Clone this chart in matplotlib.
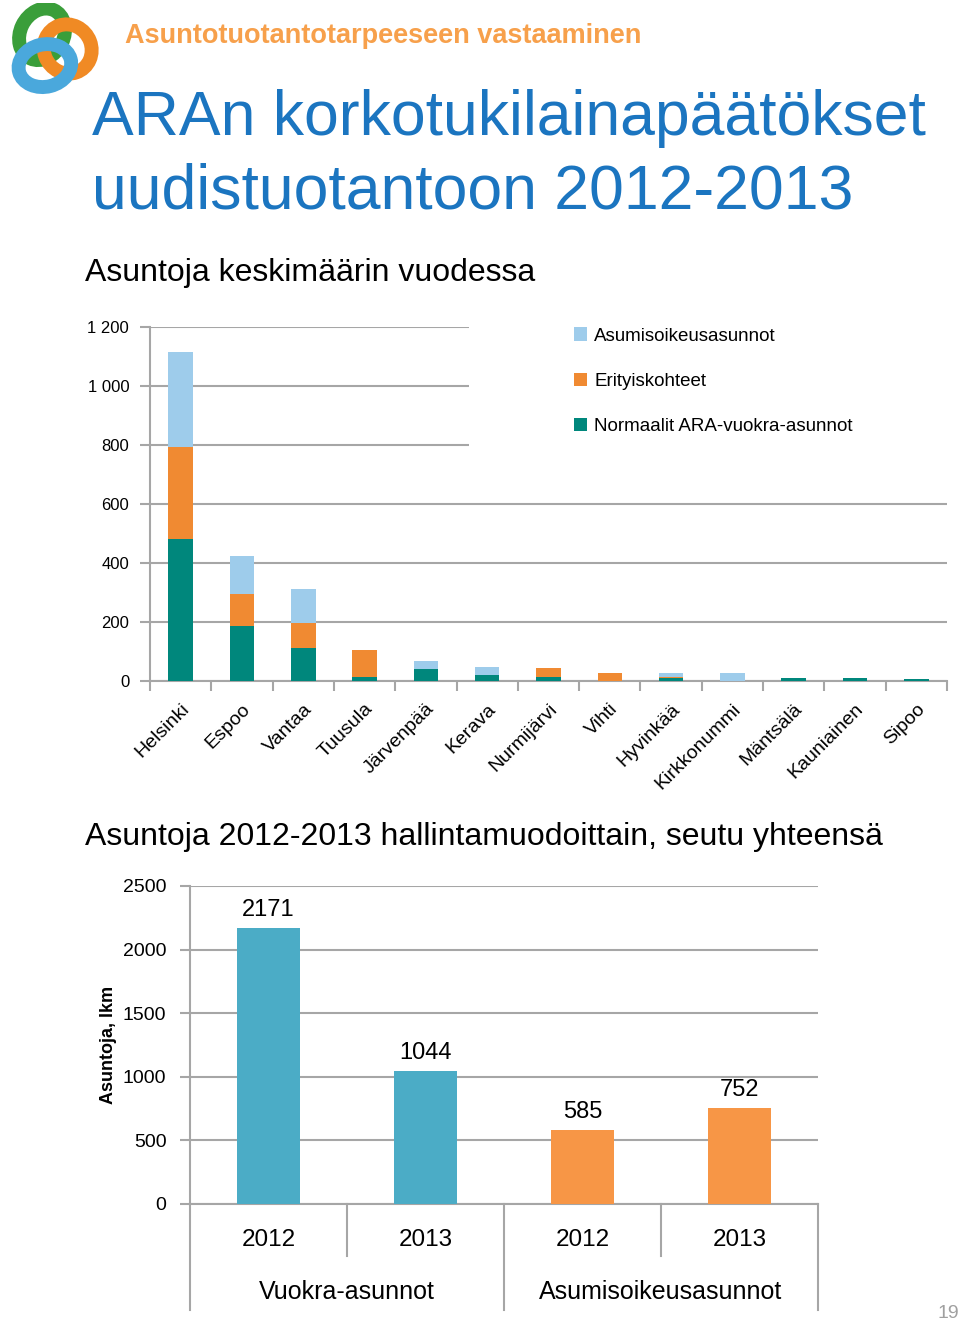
import matplotlib.pyplot as plt
import numpy as np
from matplotlib.patches import Ellipse, Rectangle

plt.rcParams['font.family'] = ['Liberation Sans', 'DejaVu Sans']

# top chart data
kunnat = ['Helsinki', 'Espoo', 'Vantaa', 'Tuusula', 'Järvenpää', 'Kerava', 'Nurmijärvi',
          'Vihti', 'Hyvinkää', 'Kirkkonummi', 'Mäntsälä', 'Kauniainen', 'Sipoo']
normaalit = [481, 186, 113, 15, 41, 21, 15, 0, 10, 0, 10, 9, 6]
erityis = [313, 108, 82, 91, 0, 0, 29, 28, 4, 0, 0, 0, 0]
asumisoikeus = [322, 129, 118, 0, 27, 28, 0, 0, 14, 27, 0, 0, 0]
top_yticks = [0, 200, 400, 600, 800, 1000, 1200]
top_ylabels = ['0', '200', '400', '600', '800', '1 000', '1 200']

# bottom chart data
vuodet = ['2012', '2013', '2012', '2013']
ryhmat = ['Vuokra-asunnot', 'Asumisoikeusasunnot']
asuntoja = [2171, 1044, 585, 752]

c_teal = '#00877C'
c_orange = '#F08A32'
c_light = '#9ECCEB'
c_blue = '#4BACC6'
c_orange2 = '#F79646'
c_grid = '#A6A6A6'

fig = plt.figure(figsize=(9.6, 13.23), dpi=100)
W, H = 960, 1323


def box(x0, y0, x1, y1):
    return [x0 / W, 1 - y1 / H, (x1 - x0) / W, (y1 - y0) / H]


# header texts
fig.text(125 / W, 1 - 36 / H, 'Asuntotuotantotarpeeseen vastaaminen', color='#F7A04B',
         fontsize=19.5, fontweight='bold', va='center')
fig.text(92 / W, 1 - 119 / H, 'ARAn korkotukilainapäätökset', color='#1B75C0',
         fontsize=45, va='center')
fig.text(92 / W, 1 - 192 / H, 'uudistuotantoon 2012-2013', color='#1B75C0',
         fontsize=45, va='center')
fig.text(85 / W, 1 - 273 / H, 'Asuntoja keskimäärin vuodessa', fontsize=23, va='center')
fig.text(85 / W, 1 - 837 / H, 'Asuntoja 2012-2013 hallintamuodoittain, seutu yhteensä',
         fontsize=23, va='center')
fig.text(948 / W, 1 - 1313 / H, '19', color='#A0A0A0', fontsize=14, ha='center', va='center')

# logo
lax = fig.add_axes(box(5, 3, 100, 95))
lax.set_xlim(0, 10)
lax.set_ylim(0, 10)
lax.axis('off')
lax.add_patch(Ellipse((3.9, 6.6), 4.6, 5.8, angle=-25, fill=False, lw=10, color='#3A9E3A'))
lax.add_patch(Ellipse((6.6, 5.0), 5.0, 5.4, angle=20, fill=False, lw=10, color='#F08A24'))
lax.add_patch(Ellipse((4.2, 3.2), 5.6, 4.6, angle=15, fill=False, lw=10, color='#4AA8DC'))

# top chart
ax = fig.add_axes(box(150, 327, 947, 681))
x = np.arange(len(kunnat))
bw = 0.4
ax.bar(x, normaalit, bw, color=c_teal, label='Normaalit ARA-vuokra-asunnot', zorder=3)
ax.bar(x, erityis, bw, bottom=normaalit, color=c_orange, label='Erityiskohteet', zorder=3)
b2 = np.array(normaalit) + np.array(erityis)
ax.bar(x, asumisoikeus, bw, bottom=b2, color=c_light, label='Asumisoikeusasunnot', zorder=3)
ax.set_xlim(-0.5, len(kunnat) - 0.5)
ax.set_ylim(0, 1200)
ax.set_yticks(top_yticks)
ax.set_yticklabels(top_ylabels, fontsize=12)
ax.yaxis.grid(True, color=c_grid, lw=1.5, zorder=0)
ax.set_axisbelow(True)
for s in ['top', 'right']:
    ax.spines[s].set_visible(False)
ax.spines['left'].set_color(c_grid)
ax.spines['bottom'].set_color(c_grid)
ax.spines['left'].set_linewidth(1.5)
ax.spines['bottom'].set_linewidth(1.5)
ax.tick_params(axis='y', length=7, width=1.5, color=c_grid, pad=8)
ax.set_xticks(x)
ax.set_xticklabels(kunnat, rotation=45, ha='right', rotation_mode='anchor', fontsize=14)
ax.tick_params(axis='x', which='major', length=0, pad=14)
ax.set_xticks(np.arange(-0.5, len(kunnat)), minor=True)
ax.tick_params(axis='x', which='minor', length=7, width=1.5, color=c_grid)
# white area behind the legend hides the upper gridlines
ax.add_patch(Rectangle((0.40, 0.66), 0.62, 0.36, transform=ax.transAxes, facecolor='white',
                       edgecolor='none', zorder=2, clip_on=False))
h, l = ax.get_legend_handles_labels()
ax.legend(h[::-1], l[::-1], loc='upper left', bbox_to_anchor=(0.522, 1.02),
          frameon=False, fontsize=13.5, handlelength=0.7, handleheight=0.7,
          handletextpad=0.4, labelspacing=1.5, borderaxespad=0)

# bottom chart
bx = fig.add_axes(box(190, 886, 818, 1204))
xb = np.arange(len(asuntoja))
colors = [c_blue, c_blue, c_orange2, c_orange2]
bars = bx.bar(xb, asuntoja, 0.4, color=colors, zorder=3)
for rect, v in zip(bars, asuntoja):
    bx.annotate(str(v), (rect.get_x() + rect.get_width() / 2, v), xytext=(0, 5),
                textcoords='offset points', ha='center', va='bottom', fontsize=17)
bx.set_xlim(-0.5, len(asuntoja) - 0.5)
bx.set_ylim(0, 2500)
bx.set_yticks([0, 500, 1000, 1500, 2000, 2500])
bx.tick_params(axis='y', labelsize=14, length=7, width=1.5, color=c_grid, pad=10)
bx.yaxis.grid(True, color=c_grid, lw=1.5, zorder=0)
bx.set_axisbelow(True)
bx.set_xticks([])
for s in ['top', 'right']:
    bx.spines[s].set_visible(False)
for s in ['left', 'bottom']:
    bx.spines[s].set_color(c_grid)
    bx.spines[s].set_linewidth(1.5)
bx.set_ylabel('Asuntoja, lkm', fontsize=13, fontweight='bold', labelpad=4)

tr = bx.get_xaxis_transform()
sep_x = np.arange(-0.5, len(asuntoja))
for i, sx in enumerate(sep_x):
    depth = -0.164 if i % 2 == 1 else -0.333
    bx.plot([sx, sx], [0, depth], transform=tr, color=c_grid, lw=1.5, clip_on=False)
for xi, yr in zip(xb, vuodet):
    bx.text(xi, -0.113, yr, transform=tr, ha='center', va='center', fontsize=17.5)
for gi, g in enumerate(ryhmat):
    bx.text(2 * gi + 0.5, -0.277, g, transform=tr, ha='center', va='center', fontsize=18)

fig.savefig('out.png', dpi=100)
